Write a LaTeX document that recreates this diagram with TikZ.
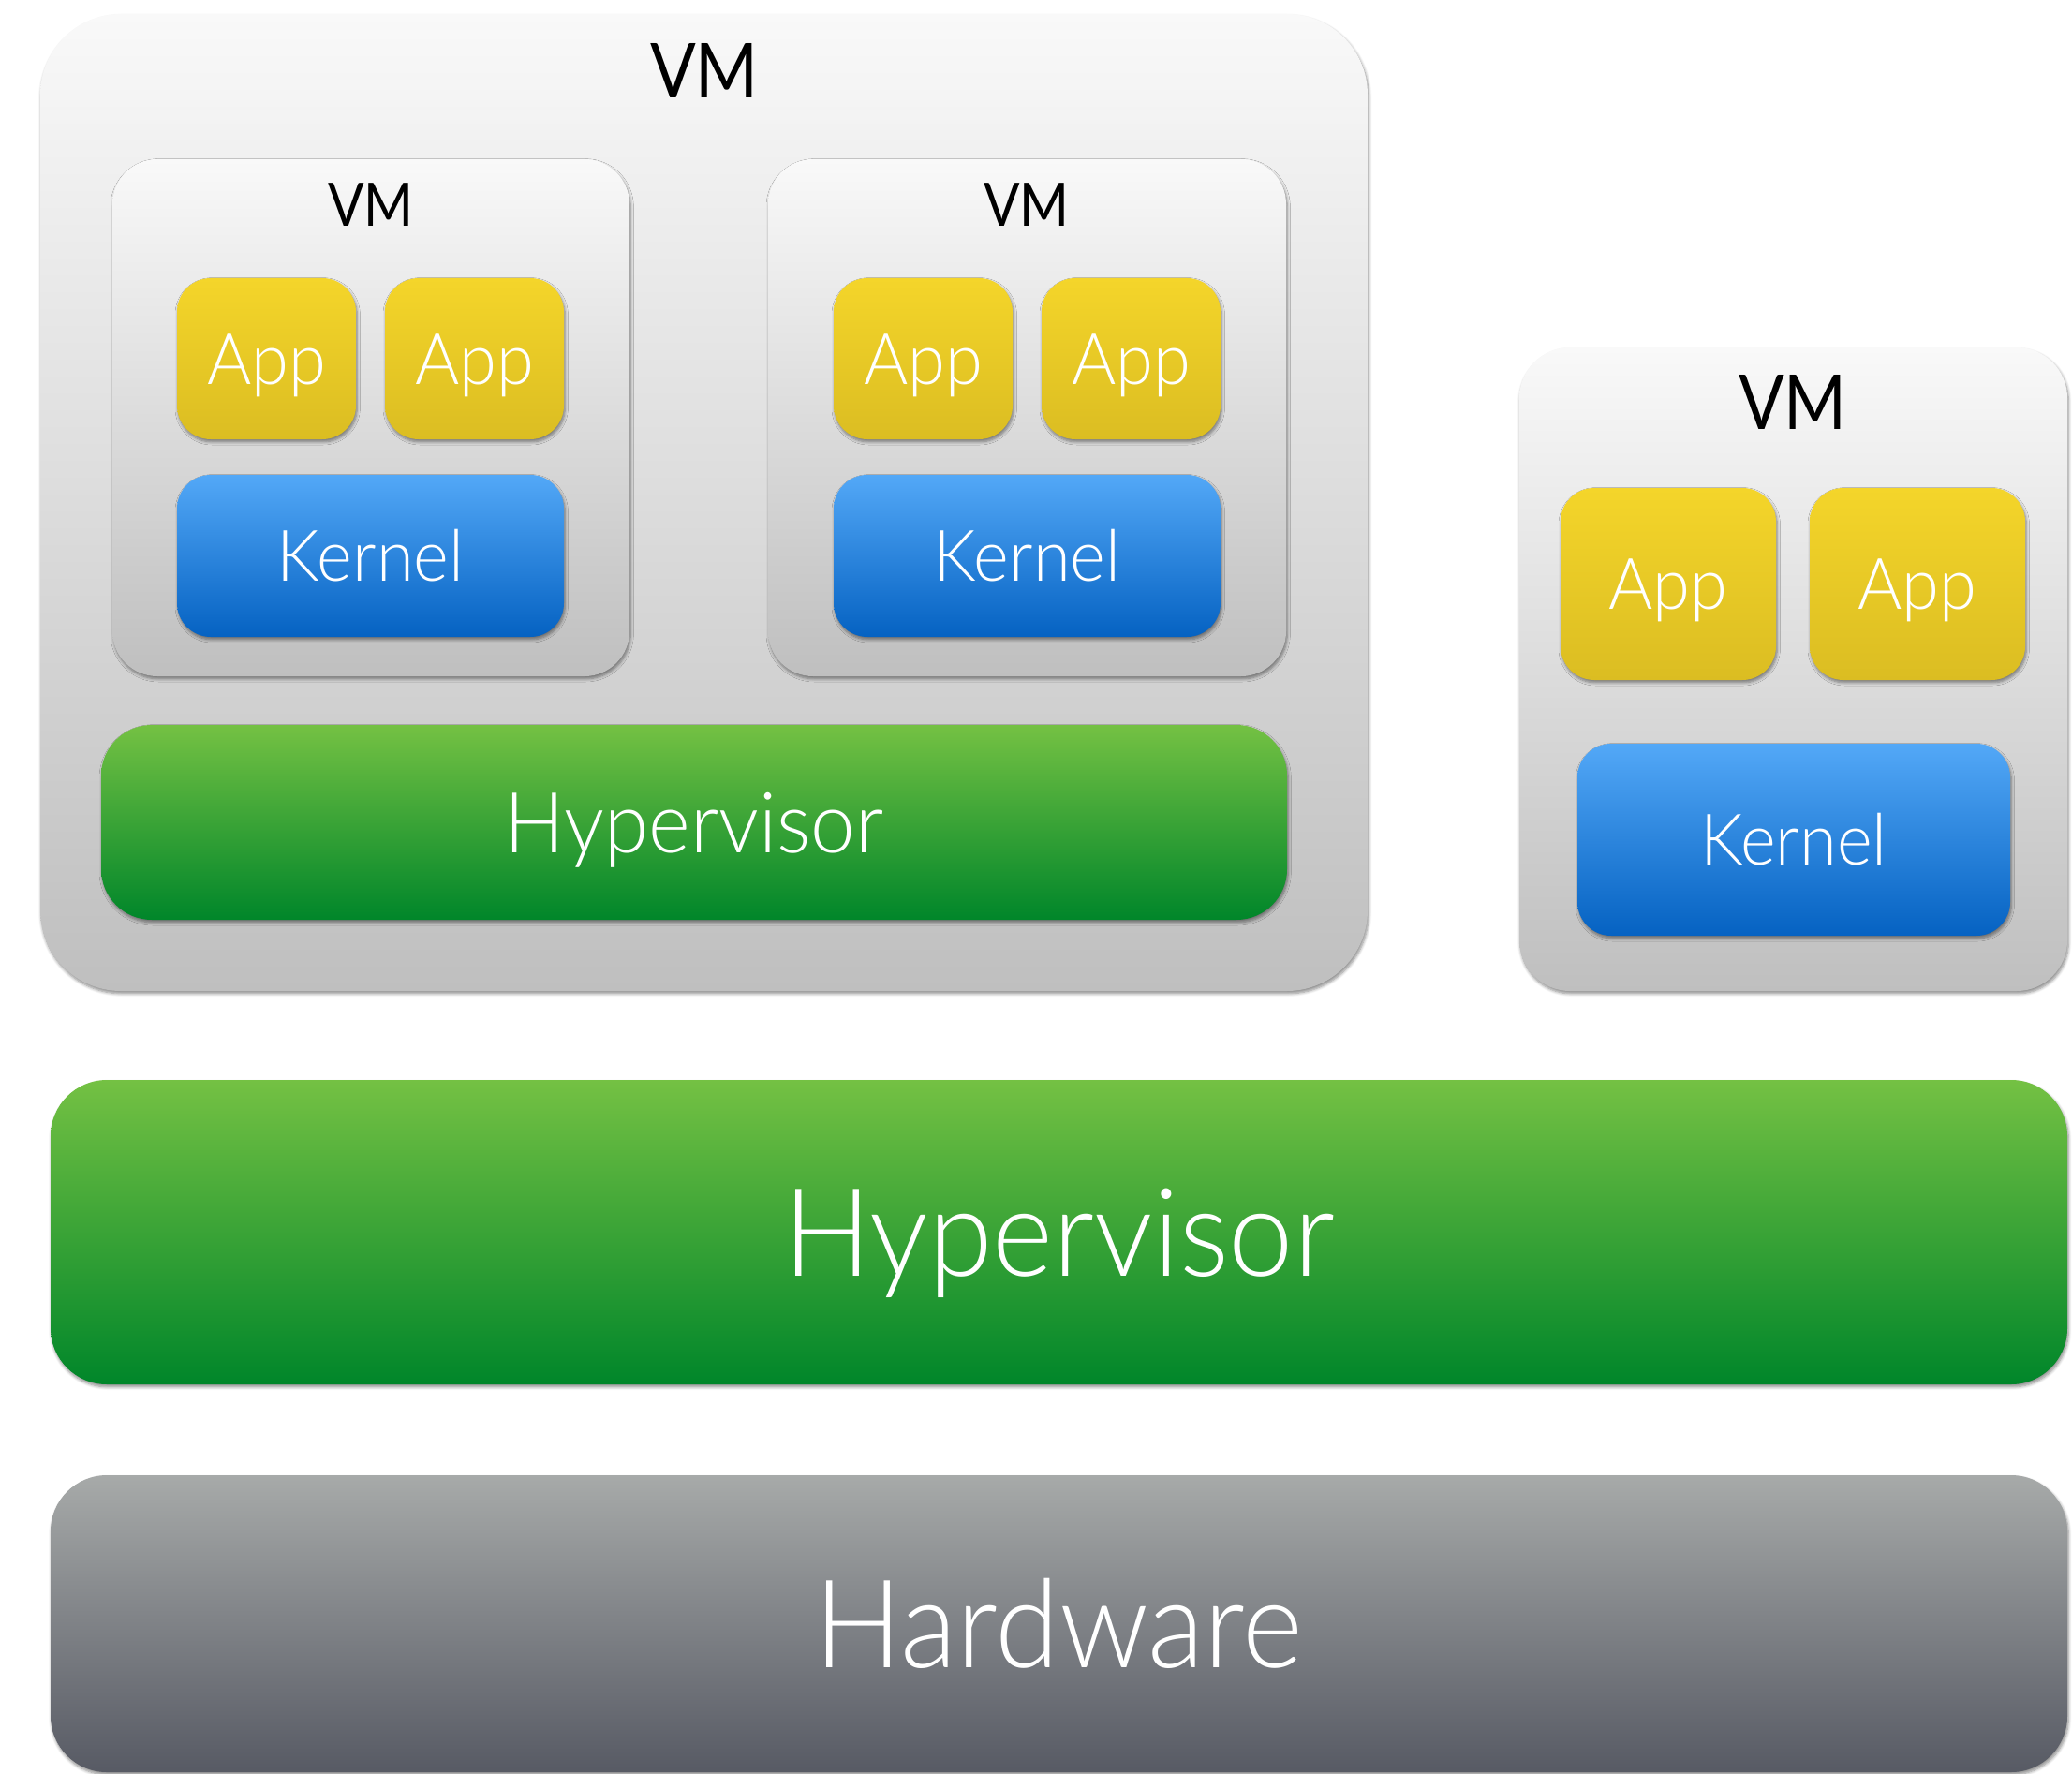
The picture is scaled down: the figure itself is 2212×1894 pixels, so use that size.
\documentclass[tikz,border=0pt]{standalone}
\usepackage{fontspec}
\IfFontExistsTF{Lato Light}
  {\newfontfamily\thinfont{Lato Light}[FakeStretch=0.95]}
  {\newfontfamily\thinfont{Lato}[FakeStretch=0.95]}
\newfontfamily\vmfont{Lato}[FakeStretch=0.89]
\usetikzlibrary{shadows.blur}

% gradient colours
\definecolor{vmtop}{HTML}{F9F9F9}
\definecolor{vmbot}{HTML}{BFBFBF}
\definecolor{apptop}{HTML}{F4D52A}
\definecolor{appbot}{HTML}{DBBD22}
\definecolor{kertop}{HTML}{53A8F7}
\definecolor{kerbot}{HTML}{0562C2}
\definecolor{hyptop}{HTML}{74C143}
\definecolor{hypbot}{HTML}{00862A}
\definecolor{hwtop}{HTML}{A7AAA9}
\definecolor{hwbot}{HTML}{575A64}

\tikzset{
  panel/.style={inner sep=0pt, outer sep=0pt, draw=none, shading=axis,
    blur shadow={shadow xshift=0.6pt, shadow yshift=-1.4pt,
      shadow blur radius=1.6pt, shadow blur steps=6, shadow opacity=45}},
  vmbox/.style={panel, top color=vmtop, bottom color=vmbot},
  outerbox/.style={vmbox, rounded corners=43pt},
  innerbox/.style={vmbox, rounded corners=24pt},
  sidebox/.style={vmbox, rounded corners=27pt},
  lighttext/.style={text=white, text depth=0pt},
  appbox/.style={panel, top color=apptop, bottom color=appbot,
    rounded corners=18pt, lighttext, text height=27.3pt,
    font=\thinfont\fontsize{38}{38}\selectfont},
  kernelbox/.style={panel, top color=kertop, bottom color=kerbot,
    rounded corners=18pt, lighttext, text height=27.3pt,
    font=\thinfont\fontsize{38}{38}\selectfont},
  hypsmall/.style={panel, top color=hyptop, bottom color=hypbot,
    rounded corners=27pt, lighttext, text height=32.4pt,
    font=\thinfont\fontsize{45}{45}\selectfont},
  hypbig/.style={panel, top color=hyptop, bottom color=hypbot,
    rounded corners=30pt, lighttext, text height=47pt,
    font=\thinfont\fontsize{65.5}{65.5}\selectfont},
  hwbox/.style={panel, top color=hwtop, bottom color=hwbot,
    rounded corners=30pt, lighttext, text height=47pt,
    font=\thinfont\fontsize{65.5}{65.5}\selectfont},
  vmlabel/.style={anchor=base, inner sep=0pt, text=black,
    font=\vmfont\fontsize{40.5}{40.5}\selectfont},
  vmlabelsmall/.style={anchor=base, inner sep=0pt, text=black,
    font=\vmfont\fontsize{32}{32}\selectfont},
}

% rounded box spanning the pixel corners (x1,y1)-(x2,y2)
% #1 style, #2 name, #3..#6 corners, #7 text
\newcommand\panelnode[7]{%
  \pgfmathsetmacro\panelw{(#5-#3)*0.5}%
  \pgfmathsetmacro\panelh{(#6-#4)*0.5}%
  \node[#1, minimum width=\panelw pt, minimum height=\panelh pt]
    (#2) at ({(#3+#5)/2},{(#4+#6)/2}) {#7};%
}

\begin{document}
\begin{tikzpicture}[x=0.5pt, y=-0.5pt]
  \useasboundingbox (0,0) rectangle (2212,1894);

  % nested virtual machines
  \panelnode{outerbox}{outer}{43}{15}{1460}{1058}{}
  \node[vmlabel] (outerlbl) at (752,105) {VM};

  \panelnode{innerbox}{vmA}{120}{170}{672}{722}{}
  \node[vmlabelsmall] (vmAlbl) at (396,242) {VM};
  \panelnode{appbox}{appA1}{189}{297}{380}{469}{App}
  \panelnode{appbox}{appA2}{411}{297}{602}{469}{App}
  \panelnode{kernelbox}{kerA}{189}{507}{602}{680}{Kernel}

  \panelnode{innerbox}{vmB}{820}{170}{1373}{722}{}
  \node[vmlabelsmall] (vmBlbl) at (1096,242) {VM};
  \panelnode{appbox}{appB1}{890}{297}{1081}{469}{App}
  \panelnode{appbox}{appB2}{1112}{297}{1303}{469}{App}
  \panelnode{kernelbox}{kerB}{890}{507}{1303}{680}{Kernel}

  \panelnode{hypsmall}{hypinner}{108}{774}{1374}{982}{Hypervisor}

  % stand-alone virtual machine
  \panelnode{sidebox}{vmC}{1622}{371}{2207}{1058}{}
  \node[vmlabel] (vmClbl) at (1914,458) {VM};
  \panelnode{appbox}{appC1}{1666}{521}{1896}{726}{App}
  \panelnode{appbox}{appC2}{1932}{521}{2162}{726}{App}
  \panelnode{kernelbox}{kerC}{1684}{794}{2146}{999}{Kernel}

  % base layers
  \panelnode{hypbig}{hyp}{54}{1153}{2207}{1478}{Hypervisor}
  \panelnode{hwbox}{hw}{54}{1575}{2207}{1892}{Hardware}
\end{tikzpicture}
\end{document}
